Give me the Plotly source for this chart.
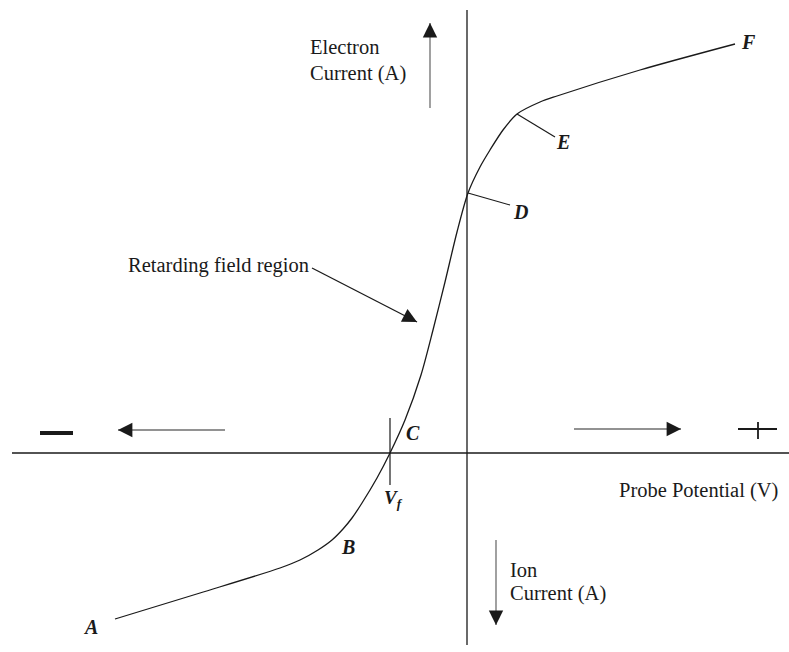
import plotly.graph_objects as go

# Probe I-V characteristic (arbitrary units, origin at axis crossing)
potential = [-352, -267, -187, -167, -149, -135, -124, -115, -105, -90, -77,
             -62, -46, -34, -22, -10, 1, 13, 23, 36, 50, 73, 90, 173, 268]
current = [-166, -140, -115, -107, -97, -87, -76, -65, -50, -25, 0,
           33, 78, 123, 171, 221, 260, 286, 303, 323, 339, 351, 357, 383, 409]

# Region labels and their positions on the curve
region_labels = ["A", "B", "C", "D", "E", "F"]
region_x = [-377, -119, -54, 53, 96, 281]
region_y = [-174, -94, 20, 241, 311, 411]

# Floating potential marker
vf_x = -77

XR = [-467, 322]
YR = [-199, 453]
FONT = "Liberation Serif, Times New Roman, serif"
INK = "#1a1a1a"
GREY = "#6e6e6e"

fig = go.Figure()

fig.add_trace(go.Scatter(
    x=potential, y=current, mode="lines",
    line=dict(color=INK, width=1.3, shape="spline", smoothing=0.8),
    hoverinfo="skip", showlegend=False,
))

shapes = []
# Axes
shapes.append(dict(type="line", x0=0, x1=0, y0=-192, y1=443,
                   line=dict(color=INK, width=1.3)))
shapes.append(dict(type="line", x0=-455, x1=322, y0=0, y1=0,
                   line=dict(color=INK, width=1.3)))
# Vf tick
shapes.append(dict(type="line", x0=vf_x, x1=vf_x, y0=35, y1=-32,
                   line=dict(color=INK, width=1.2)))
# D and E leader ticks
shapes.append(dict(type="line", x0=1, y0=260, x1=43, y1=248,
                   line=dict(color=INK, width=1.2)))
shapes.append(dict(type="line", x0=50, y0=339, x1=88, y1=316,
                   line=dict(color=INK, width=1.2)))
# Minus sign
shapes.append(dict(type="line", x0=-427, x1=-394, y0=20, y1=20,
                   line=dict(color=INK, width=4)))
# Plus sign
shapes.append(dict(type="line", x0=271, x1=310, y0=24, y1=24,
                   line=dict(color=INK, width=1.8)))
shapes.append(dict(type="line", x0=291, x1=291, y0=31, y1=14,
                   line=dict(color=INK, width=1.8)))

annotations = []


def arrow(x_head, y_head, x_tail, y_tail, shaft=GREY):
    # grey shaft with a solid black head
    shapes.append(dict(type="line", x0=x_tail, y0=y_tail, x1=x_head, y1=y_head,
                       line=dict(color=shaft, width=1.3)))
    dx, dy = x_head - x_tail, y_head - y_tail
    n = (dx * dx + dy * dy) ** 0.5
    annotations.append(dict(
        x=x_head, y=y_head,
        ax=x_head - 8 * dx / n, ay=y_head - 8 * dy / n,
        xref="x", yref="y", axref="x", ayref="y",
        text="", showarrow=True, arrowhead=2, arrowsize=2.4,
        arrowwidth=1.2, arrowcolor=INK,
    ))


arrow(-349, 23, -242, 23)      # towards negative potential
arrow(214, 24, 107, 24)        # towards positive potential
arrow(-37, 430, -37, 345)      # electron current
arrow(29, -172, 29, -87)       # ion current
arrow(-50, 131, -155, 185, shaft=INK)  # retarding field region


def text(x, y, s, anchor="left", size=20.5):
    annotations.append(dict(
        x=x, y=y, xref="x", yref="y", text=s, showarrow=False,
        xanchor=anchor, yanchor="middle",
        font=dict(family=FONT, size=size, color=INK),
    ))


text(-159, 406, "Electron")
text(-159, 380, "Current (A)")
text(41, -117, "Ion")
text(41, -140, "Current (A)")
text(-341, 188, "Retarding field region")
text(150, -37, "Probe Potential (V)")

for lab, lx, ly in zip(region_labels, region_x, region_y):
    text(lx, ly, f"<b><i>{lab}</i></b>", anchor="center", size=20)

text(vf_x + 3, -46, "<b><i>V</i></b><sub><b><i>f</i></b></sub>",
     anchor="center", size=19)

fig.update_layout(
    width=789, height=652,
    margin=dict(l=0, r=0, t=0, b=0),
    paper_bgcolor="white", plot_bgcolor="white",
    xaxis=dict(range=XR, visible=False, fixedrange=True),
    yaxis=dict(range=YR, visible=False, fixedrange=True),
    shapes=shapes, annotations=annotations,
    showlegend=False,
)

fig.write_html("out.html")
